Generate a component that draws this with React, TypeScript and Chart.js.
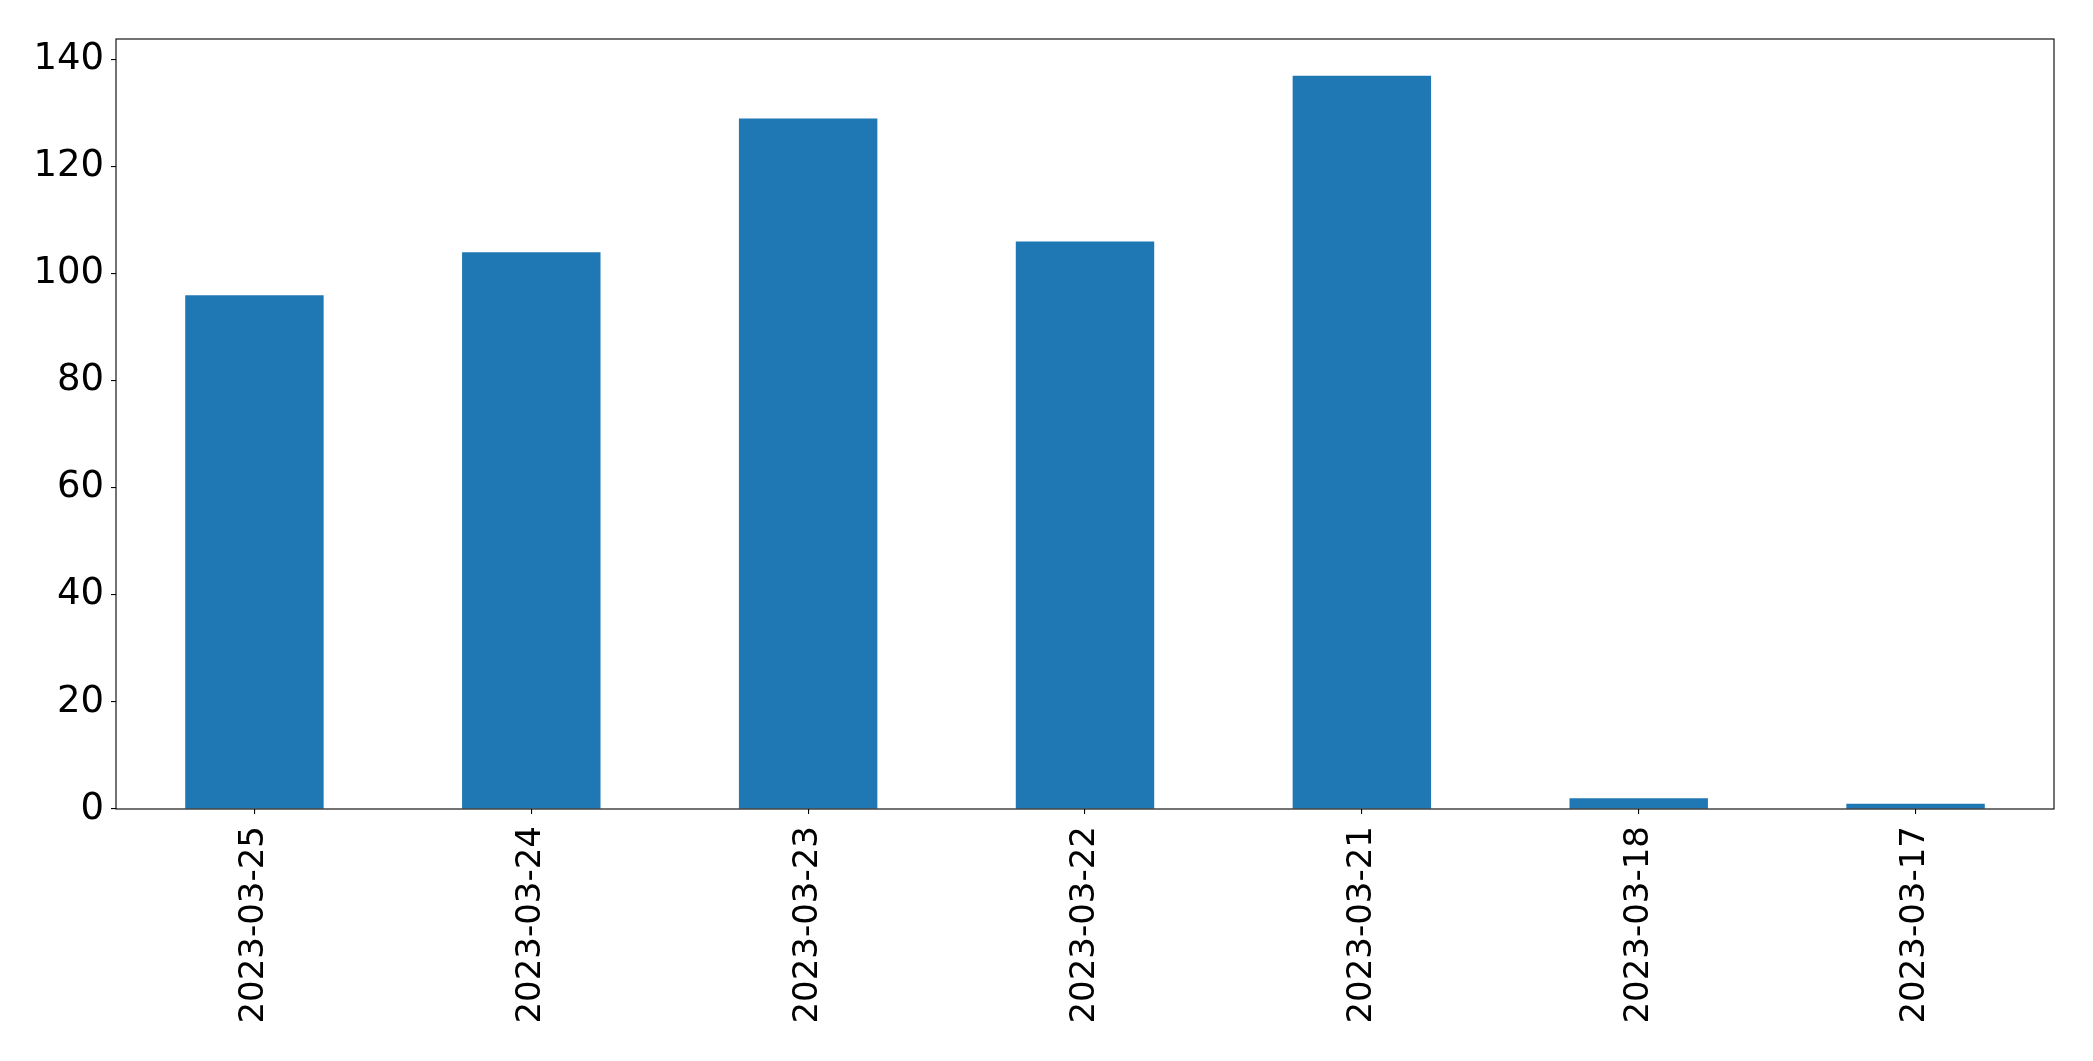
import React, { useEffect, useRef } from "react";
import { Chart, registerables } from "chart.js";

Chart.register(...registerables);

const categories: string[] = [
  "2023-03-25",
  "2023-03-24",
  "2023-03-23",
  "2023-03-22",
  "2023-03-21",
  "2023-03-18",
  "2023-03-17",
];
const values: number[] = [96, 104, 129, 106, 137, 2, 1];
const yTickStep = 20;
const barColor = "#1f77b4";

const framePlugin = {
  id: "frame",
  afterDraw(chart: any) {
    const { ctx, chartArea } = chart;
    ctx.save();
    ctx.strokeStyle = "#000";
    ctx.lineWidth = 1.1;
    ctx.strokeRect(
      chartArea.left,
      chartArea.top,
      chartArea.right - chartArea.left,
      chartArea.bottom - chartArea.top
    );
    ctx.restore();
  },
};

export default function App() {
  const ref = useRef<HTMLCanvasElement | null>(null);
  useEffect(() => {
    if (!ref.current) return;
    const yMax = Math.max(...values) * 1.05;
    const family = "'DejaVu Sans', sans-serif";
    const chart = new Chart(ref.current, {
      type: "bar",
      data: {
        labels: categories,
        datasets: [
          {
            data: values,
            backgroundColor: barColor,
            borderWidth: 0,
            barPercentage: 0.5,
            categoryPercentage: 1.0,
          },
        ],
      },
      plugins: [framePlugin],
      options: {
        responsive: false,
        animation: false,
        devicePixelRatio: 1,
        layout: { padding: { top: 39, right: 39, left: 0, bottom: 0 } },
        plugins: { legend: { display: false }, tooltip: { enabled: false } },
        scales: {
          x: {
            offset: true,
            border: { display: false },
            grid: {
              offset: false,
              drawOnChartArea: false,
              drawTicks: true,
              tickLength: 5,
              color: "#000",
              lineWidth: 1.1,
            },
            ticks: {
              color: "#000",
              font: { family, size: 34 },
              minRotation: 90,
              maxRotation: 90,
              padding: 12,
              autoSkip: false,
            },
            afterFit(scale: any) {
              scale.height = 252;
            },
          },
          y: {
            min: 0,
            max: yMax,
            border: { display: false },
            grid: {
              drawOnChartArea: false,
              drawTicks: true,
              tickLength: 5,
              color: "#000",
              lineWidth: 1.1,
            },
            ticks: {
              color: "#000",
              font: { family, size: 37 },
              stepSize: yTickStep,
              includeBounds: false,
              padding: 7,
            },
            afterFit(scale: any) {
              scale.width = 116;
            },
          },
        },
      },
    });
    return () => chart.destroy();
  }, []);
  return (
    <div style={{ position: "absolute", left: 0, top: 0, width: 2093, height: 1061, background: "#fff" }}>
      <canvas ref={ref} width={2093} height={1061} style={{ width: 2093, height: 1061, display: "block" }} />
    </div>
  );
}
